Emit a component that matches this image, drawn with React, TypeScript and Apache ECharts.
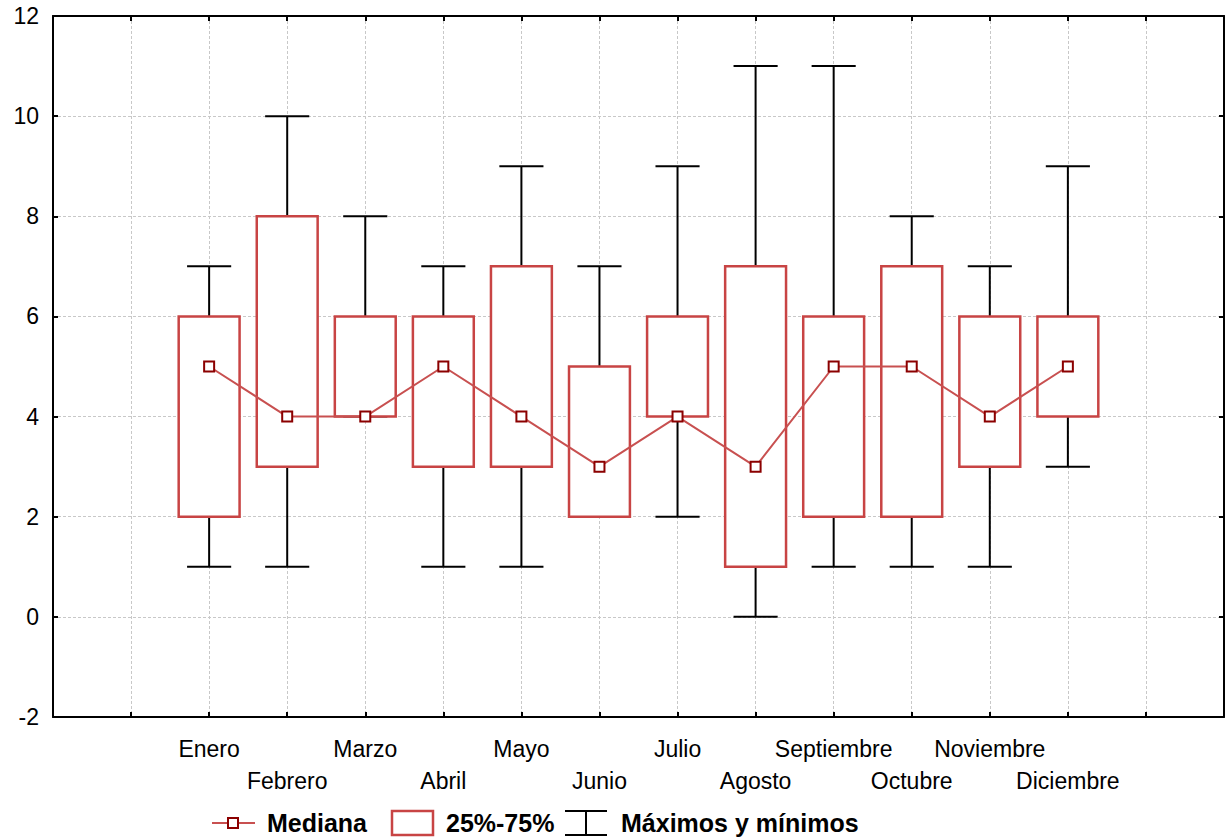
import React, { useEffect, useRef } from 'react';
import * as echarts from 'echarts';

const months = ['Enero', 'Febrero', 'Marzo', 'Abril', 'Mayo', 'Junio', 'Julio', 'Agosto', 'Septiembre', 'Octubre', 'Noviembre', 'Diciembre'];
const categories = ['', '', ...months, '', ''];
const minimos = [1, 1, 4, 1, 1, 2, 2, 0, 1, 1, 1, 3];
const q1 = [2, 3, 4, 3, 3, 2, 4, 1, 2, 2, 3, 4];
const medianas = [5, 4, 4, 5, 4, 3, 4, 3, 5, 5, 4, 5];
const q3 = [6, 8, 6, 6, 7, 5, 6, 7, 6, 7, 6, 6];
const maximos = [7, 10, 8, 7, 9, 7, 9, 11, 11, 8, 7, 9];
const yMin = -2;
const yMax = 12;
const yInterval = 2;
const legendLabels = ['Mediana', '25%-75%', 'Máximos y mínimos'];

const FONT = '"Liberation Sans", Arial, sans-serif';
const BOX_RED = '#c84444';
const LINE_RED = '#c85050';
const DARK_RED = '#8b0000';

export default function App() {
  const ref = useRef<HTMLDivElement>(null);
  useEffect(() => {
    if (!ref.current) return;
    const chart = echarts.init(ref.current, null, { renderer: 'svg' });
    const boxData = months.map((m, i) => [m, minimos[i], q1[i], medianas[i], q3[i], maximos[i]]);
    const medData = months.map((m, i) => [m, medianas[i]]);
    const splitStyle = { color: '#c8c8c8', width: 1, type: [3, 2] as any };
    const frameLine = { show: true, onZero: false, lineStyle: { color: '#000', width: 2 } };
    const tickIn = { show: true, inside: true, length: 5, lineStyle: { color: '#000', width: 2 } };
    const ly = 823;
    const option: any = {
      animation: false,
      grid: { left: 53, right: 7, top: 16, bottom: 123 },
      xAxis: [
        {
          type: 'category',
          data: categories,
          boundaryGap: false,
          axisLine: frameLine,
          axisTick: { ...tickIn, interval: 0 },
          axisLabel: {
            interval: 0,
            margin: 16,
            fontSize: 23,
            fontFamily: FONT,
            color: '#000',
            lineHeight: 32,
            formatter: (v: string, idx: number) => ((idx - 2) % 2 === 1 ? '\n' + v : v),
          },
          splitLine: { show: true, interval: 0, lineStyle: splitStyle },
        },
        {
          type: 'category',
          position: 'top',
          data: categories,
          boundaryGap: false,
          axisLine: frameLine,
          axisTick: { ...tickIn, interval: 0 },
          axisLabel: { show: false },
          splitLine: { show: false },
        },
      ],
      yAxis: [
        {
          type: 'value',
          min: yMin,
          max: yMax,
          interval: yInterval,
          axisLine: frameLine,
          axisTick: tickIn,
          axisLabel: { fontSize: 23, fontFamily: FONT, color: '#000', margin: 14 },
          splitLine: { show: true, lineStyle: splitStyle },
        },
        {
          type: 'value',
          position: 'right',
          min: yMin,
          max: yMax,
          interval: yInterval,
          axisLine: frameLine,
          axisTick: tickIn,
          axisLabel: { show: false },
          splitLine: { show: false },
        },
      ],
      series: [
        {
          name: legendLabels[1],
          type: 'custom',
          xAxisIndex: 0,
          yAxisIndex: 0,
          data: boxData,
          encode: { x: 0, y: [1, 2, 3, 4, 5] },
          z: 2,
          renderItem: (params: any, api: any) => {
            const x = api.value(0);
            const pMin = api.coord([x, api.value(1)]);
            const pQ1 = api.coord([x, api.value(2)]);
            const pQ3 = api.coord([x, api.value(4)]);
            const pMax = api.coord([x, api.value(5)]);
            const band = api.size([1, 0])[0];
            const boxW = band * 0.78;
            const capW = band * 0.565;
            const cx = pMin[0];
            const black = { stroke: '#000', lineWidth: 2 };
            return {
              type: 'group',
              children: [
                { type: 'line', shape: { x1: cx, y1: pMax[1], x2: cx, y2: pQ3[1] }, style: black },
                { type: 'line', shape: { x1: cx - capW / 2, y1: pMax[1], x2: cx + capW / 2, y2: pMax[1] }, style: black },
                { type: 'line', shape: { x1: cx, y1: pQ1[1], x2: cx, y2: pMin[1] }, style: black },
                { type: 'line', shape: { x1: cx - capW / 2, y1: pMin[1], x2: cx + capW / 2, y2: pMin[1] }, style: black },
                {
                  type: 'rect',
                  shape: { x: cx - boxW / 2, y: pQ3[1], width: boxW, height: pQ1[1] - pQ3[1] },
                  style: { fill: '#fff', stroke: BOX_RED, lineWidth: 2.5 },
                },
              ],
            };
          },
        },
        {
          name: legendLabels[0],
          type: 'line',
          xAxisIndex: 0,
          yAxisIndex: 0,
          data: medData,
          z: 5,
          symbol: 'rect',
          symbolSize: 10,
          showAllSymbol: true,
          lineStyle: { color: LINE_RED, width: 2 },
          itemStyle: { color: '#fff', borderColor: DARK_RED, borderWidth: 2 },
        },
      ],
      graphic: [
        { type: 'line', shape: { x1: 212, y1: ly, x2: 255, y2: ly }, style: { stroke: LINE_RED, lineWidth: 2 } },
        { type: 'rect', shape: { x: 228, y: ly - 5, width: 10, height: 10 }, style: { fill: '#fff', stroke: DARK_RED, lineWidth: 2 } },
        { type: 'text', x: 267, y: ly, style: { text: legendLabels[0], fontSize: 25, fontWeight: 'bold', fontFamily: FONT, fill: '#000', verticalAlign: 'middle' } },
        { type: 'rect', shape: { x: 392, y: ly - 12, width: 41, height: 24 }, style: { fill: '#fff', stroke: BOX_RED, lineWidth: 2.5 } },
        { type: 'text', x: 446, y: ly, style: { text: legendLabels[1], fontSize: 25, fontWeight: 'bold', fontFamily: FONT, fill: '#000', verticalAlign: 'middle' } },
        { type: 'line', shape: { x1: 565, y1: ly - 12, x2: 607, y2: ly - 12 }, style: { stroke: '#000', lineWidth: 2 } },
        { type: 'line', shape: { x1: 586, y1: ly - 12, x2: 586, y2: ly + 12 }, style: { stroke: '#000', lineWidth: 2 } },
        { type: 'line', shape: { x1: 565, y1: ly + 12, x2: 607, y2: ly + 12 }, style: { stroke: '#000', lineWidth: 2 } },
        { type: 'text', x: 621, y: ly, style: { text: legendLabels[2], fontSize: 25, fontWeight: 'bold', fontFamily: FONT, fill: '#000', verticalAlign: 'middle' } },
      ],
    };
    chart.setOption(option);
    return () => chart.dispose();
  }, []);
  return (
    <div
      ref={ref}
      style={{ position: 'fixed', left: 0, top: 0, width: 1231, height: 840, background: '#fff' }}
    />
  );
}
